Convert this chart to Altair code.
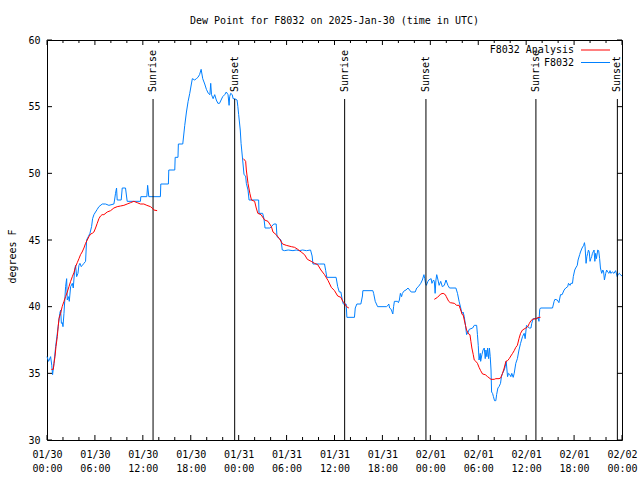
import altair as alt
import pandas as pd

# ---------------- data (hours since 2025-01-30 00:00 UTC, deg F) ----------------
obs_hours = [
    0.0, 0.2, 0.45, 0.6, 0.7, 0.875, 1.08, 1.29, 1.5, 1.6, 1.71, 1.8, 1.92, 2.0, 2.125, 2.33, 2.46, 2.54,
    2.7, 2.79, 2.96, 3.17, 3.29, 3.46, 3.58, 3.71, 3.875, 4.0, 4.125, 4.29, 4.42, 4.625, 4.83, 4.96, 5.17,
    5.375, 5.58, 5.71, 5.875, 6.08, 6.29, 6.5, 6.92, 7.33, 7.75, 8.375, 8.46, 8.58, 8.71, 8.79, 9.29, 9.42,
    9.83, 10.04, 11.7, 11.75, 12.5, 12.6, 12.75, 14.2, 14.25, 15.2, 15.25, 16.0, 16.05, 16.4, 16.45, 17.0,
    17.25, 17.46, 17.67, 17.875, 18.08, 18.2, 18.5, 18.7, 18.9, 19.1, 19.3, 19.5, 19.75, 19.96, 20.2, 20.4,
    20.5, 20.6, 20.8, 21.0, 21.2, 21.4, 21.6, 21.8, 22.0, 22.25, 22.45, 22.67, 22.8, 22.875, 23.0, 23.2,
    23.3, 23.5, 23.8, 23.9, 24.0, 24.2, 24.3, 24.5, 24.67, 24.875, 24.96, 25.17, 25.3, 26.5, 26.55, 27.0,
    27.17, 27.3, 27.9, 28.1, 28.4, 28.7, 28.8, 29.1, 29.3, 29.46, 29.75, 30.2, 30.8, 31.2, 31.6, 32.0, 32.5,
    33.0, 33.2, 33.3, 34.1, 34.75, 34.9, 35.04, 36.2, 36.4, 36.6, 36.8, 36.96, 37.1, 37.46, 37.55, 38.5,
    38.6, 38.8, 39.3, 39.5, 39.55, 40.8, 40.9, 41.1, 41.4, 42.5, 42.7, 42.8, 42.9, 43.1, 43.3, 43.4, 43.5,
    43.9, 44.0, 44.125, 44.25, 44.4, 44.5, 44.75, 44.96, 45.2, 45.4, 45.6, 46.1, 46.3, 46.5, 46.8, 47.0,
    47.2, 47.3, 47.4, 47.5, 47.7, 47.8, 48.1, 48.2, 48.4, 48.5, 48.6, 48.7, 48.8, 48.96, 49.1, 49.3, 49.5,
    49.75, 49.96, 50.2, 50.4, 51.2, 51.4, 51.6, 51.75, 51.96, 52.1, 52.25, 52.4, 52.54, 52.67, 52.875, 53.3,
    53.5, 53.8, 53.9, 54.0, 54.1, 54.25, 54.3, 54.46, 54.6, 54.75, 54.875, 54.96, 55.08, 55.17, 55.3, 55.4,
    55.5, 55.6, 55.67, 55.79, 55.9, 56.04, 56.2, 56.3, 56.46, 56.6, 56.79, 56.9, 57.04, 57.25, 57.375, 57.5,
    57.67, 57.79, 57.96, 58.08, 58.2, 58.375, 58.5, 58.7, 58.9, 59.1, 59.3, 59.54, 59.75, 59.875, 60.04,
    60.2, 60.4, 60.6, 60.7, 60.875, 61.4, 61.5, 61.6, 61.7, 61.8, 63.3, 63.5, 63.6, 63.9, 64.1, 64.3, 64.5,
    64.75, 64.96, 65.2, 65.3, 65.5, 65.6, 65.8, 65.9, 66.08, 66.2, 66.4, 66.5, 66.7, 66.8, 67.0, 67.2, 67.3,
    67.375, 67.5, 67.6, 67.7, 67.8, 67.9, 68.0, 68.1, 68.2, 68.3, 68.5, 68.6, 68.7, 68.8, 68.96, 69.08,
    69.2, 69.3, 69.46, 69.6, 69.7, 69.8, 69.96, 70.08, 70.2, 70.375, 70.5, 70.6, 70.79, 71.0, 71.2, 71.4,
    71.5, 71.67, 71.8, 72.0,
]
obs_dewpt = [
    36.25, 35.9, 36.25, 35.6, 34.9, 35.75, 37.0, 38.0, 39.0, 39.5, 39.75, 38.75, 38.8, 38.5, 39.5, 41.5, 42.1, 40.5,
    40.75, 40.4, 41.5, 41.75, 41.4, 42.75, 43.1, 42.25, 42.5, 43.1, 43.25, 43.0, 43.1, 43.25, 43.4, 45.0, 45.25,
    45.5, 46.0, 46.6, 46.9, 47.1, 47.3, 47.5, 47.7, 47.7, 47.6, 47.7, 48.0, 48.5, 48.9, 48.0, 48.0, 48.9,
    48.9, 47.9, 47.9, 48.25, 48.25, 49.1, 48.25, 48.25, 49.2, 49.2, 50.25, 50.25, 51.2, 51.2, 52.2, 52.2,
    53.6, 54.6, 55.4, 56.0, 56.7, 57.1, 57.0, 57.1, 57.2, 57.4, 57.8, 57.1, 56.7, 56.3, 56.0, 55.9,
    56.75, 55.9, 55.6, 55.9, 55.5, 55.25, 55.25, 55.5, 55.75, 55.9, 56.1, 55.9, 55.1, 55.75, 56.0, 55.9,
    55.6, 55.6, 55.5, 55.0, 54.4, 53.25, 52.25, 51.0, 49.9, 49.8, 49.25, 48.75, 48.0, 48.0, 47.0, 47.0,
    46.6, 45.9, 45.9, 46.0, 46.2, 46.2, 45.25, 45.1, 45.0, 44.25, 44.2, 44.25, 44.2, 44.25, 44.2, 44.25, 44.2,
    44.25, 43.8, 43.2, 43.2, 43.2, 42.7, 42.2, 42.2, 41.5, 41.1, 41.1, 40.55, 40.2, 40.2, 39.2, 39.2,
    39.9, 40.2, 40.2, 40.8, 41.2, 41.2, 41.0, 40.4, 40.0, 40.0, 40.1, 40.2, 39.9, 39.8, 39.45, 40.0, 40.4,
    40.4, 40.3, 40.5, 41.0, 40.75, 41.0, 41.2, 41.25, 41.4, 41.25, 41.1, 41.1, 41.4, 41.5, 41.75, 42.0,
    42.4, 42.1, 41.75, 41.6, 41.9, 42.0, 42.1, 41.75, 42.0, 41.9, 41.0, 42.0, 42.4, 42.0, 41.6, 41.9, 41.5,
    41.6, 42.0, 41.6, 41.4, 41.4, 41.0, 40.4, 40.05, 39.5, 39.6, 39.25, 38.6, 37.9, 38.0, 38.3, 38.4,
    38.6, 38.6, 37.9, 37.1, 36.0, 36.5, 35.9, 36.4, 36.75, 36.9, 36.1, 36.75, 36.25, 36.9, 36.1, 36.9,
    36.25, 35.25, 33.6, 33.5, 33.25, 32.95, 32.95, 33.4, 33.9, 34.0, 34.25, 34.75, 35.0, 35.25, 35.5, 35.9,
    34.75, 35.0, 34.9, 34.75, 35.0, 34.7, 35.0, 35.75, 36.1, 36.75, 37.25, 37.75, 38.0, 37.6, 38.6,
    38.5, 38.4, 38.4, 38.75, 39.1, 39.1, 39.2, 38.9, 39.8, 39.9, 39.9, 40.4, 40.55, 40.5, 40.3, 40.9, 40.9,
    41.25, 41.4, 41.5, 41.75, 41.6, 41.75, 41.75, 42.25, 42.75, 42.9, 43.1, 43.5, 43.9, 44.1, 44.4, 44.6, 44.8,
    44.5, 43.25, 43.75, 44.0, 44.25, 44.1, 43.4, 43.6, 43.75, 44.0, 44.25, 43.4, 44.0, 43.6, 44.25, 44.2,
    43.6, 42.9, 42.5, 42.75, 42.6, 42.0, 42.5, 42.75, 42.6, 42.5, 42.7, 42.5, 42.6, 42.5, 42.7, 42.25,
    42.4, 42.5, 42.4, 42.3,
]

ana1_hours = [0.54, 0.79, 0.875, 1.0, 1.125, 1.29, 1.4, 1.5, 1.7, 1.9, 2.125, 2.33, 2.54, 2.75, 2.96, 3.17,
              3.375, 3.58, 3.79, 4.0, 4.2, 4.4, 4.625, 4.83, 5.04, 5.25, 5.46, 5.67, 5.875, 6.08, 6.29, 6.5,
              6.7, 6.9, 7.125, 7.54, 7.96, 8.375, 8.79, 9.2, 9.625, 10.04, 10.46, 10.875, 11.3, 11.7, 12.125,
              12.5, 12.96, 13.17, 13.375, 13.79]
ana1_dewpt = [35.3, 35.3, 35.75, 36.25, 37.0, 37.75, 38.5, 39.1, 39.5, 40.0, 40.4, 40.75, 41.1, 41.5, 41.9, 42.25,
              42.55, 43.0, 43.3, 43.6, 43.9, 44.1, 44.4, 44.75, 45.0, 45.25, 45.45, 45.5, 45.6, 45.9, 46.25, 46.6,
              46.8, 46.9, 46.9, 47.1, 47.2, 47.4, 47.5, 47.55, 47.6, 47.7, 47.8, 47.9, 47.8, 47.7, 47.7,
              47.6, 47.5, 47.4, 47.25, 47.2]
ana2_hours = [24.6, 24.875, 24.96, 25.17, 25.4, 25.6, 26.0, 26.2, 26.4, 26.8, 27.25, 27.67, 28.1, 28.3, 28.7,
              29.1, 29.5, 29.96, 30.6, 31.0, 31.4, 31.83, 32.25, 32.6, 33.08, 33.5, 33.9, 34.3, 34.75, 35.2,
              35.6, 36.0, 36.4, 36.8, 37.04, 37.25, 37.5, 37.8]
ana2_dewpt = [51.1, 50.9, 50.25, 49.25, 48.5, 48.0, 47.9, 47.4, 47.0, 46.9, 46.5, 46.4, 46.0, 45.6, 45.4,
              45.1, 44.7, 44.6, 44.5, 44.45, 44.3, 44.1, 43.9, 43.55, 43.4, 43.25, 43.15, 42.75, 42.4, 41.95,
              41.45, 41.2, 40.8, 40.7, 40.4, 40.25, 40.0, 39.9]
ana3_hours = [48.5, 48.9, 49.3, 49.6, 49.875, 50.0, 50.3, 50.5, 51.0, 51.3, 51.6, 51.8, 52.0, 52.1, 52.4, 52.54,
              52.79, 52.96, 53.08, 53.2, 53.375, 53.5, 53.7, 53.9, 54.1, 54.3, 54.54, 54.875, 55.17, 55.6, 56.0,
              56.2, 56.6, 56.8, 57.04, 57.25, 57.46, 57.67, 57.875, 58.08, 58.3, 58.5, 58.7, 58.9, 59.1, 59.3,
              59.54, 59.96, 60.2, 60.4, 60.6, 60.8, 61.2, 61.6, 61.8]
ana3_dewpt = [40.55, 40.7, 40.95, 41.0, 40.9, 40.75, 40.4, 40.3, 40.25, 40.1, 40.1, 39.75, 39.4, 39.4, 38.6, 38.25,
              37.95, 37.9, 37.4, 36.9, 36.4, 36.0, 35.9, 35.75, 35.45, 35.2, 34.95, 34.9, 34.75, 34.55, 34.55,
              34.6, 34.6, 34.65, 35.0, 35.4, 35.9, 35.95, 36.1, 36.3, 36.5, 36.7, 36.95, 37.1, 37.6, 38.0,
              38.25, 38.4, 38.5, 38.75, 38.95, 39.05, 39.1, 39.2, 39.2]

sun_hours = [13.28, 23.5, 37.27, 47.45, 61.22, 71.42]
sun_labels = ["Sunrise", "Sunset", "Sunrise", "Sunset", "Sunrise", "Sunset"]

day_labels = ["01/30", "01/31", "02/01", "02/02"]
x_major = list(range(0, 73, 6))
x_minor = [h for h in range(0, 73, 2) if h % 6]
y_ticks = list(range(30, 61, 5))

series_names = ["F8032 Analysis", "F8032"]
series_colors = ["#ff0000", "#0080ff"]

# ---------------- chart ----------------
FONT = "DejaVu Sans Mono"
W, H = 575, 400

obs_df = pd.DataFrame({"hour": obs_hours, "dewpt": obs_dewpt})
ana_df = pd.concat([
    pd.DataFrame({"hour": ana1_hours, "dewpt": ana1_dewpt, "seg": 1}),
    pd.DataFrame({"hour": ana2_hours, "dewpt": ana2_dewpt, "seg": 2}),
    pd.DataFrame({"hour": ana3_hours, "dewpt": ana3_dewpt, "seg": 3}),
])
sun_df = pd.DataFrame({"hour": sun_hours, "label": sun_labels})

x_scale = alt.Scale(domain=[0, 72], nice=False, zero=False)
y_scale = alt.Scale(domain=[30, 60], nice=False, zero=False)

label_expr = ("[" + str(day_labels).replace('"', "'") + "[floor(datum.value/24)], "
              "(datum.value % 24 < 10 ? '0' : '') + (datum.value % 24) + ':00']")

x_axis = alt.Axis(values=x_major, labelExpr=label_expr, ticks=False, tickSize=0, domain=False,
                  grid=False, title=None, labelFont=FONT, labelFontSize=10, labelColor="black",
                  labelPadding=9, labelLineHeight=14, labelBaseline="top", labelFlush=False,
                  labelOverlap=False, labelBound=False)
y_axis = alt.Axis(values=y_ticks, ticks=False, tickSize=0, domain=False, grid=False,
                  title="degrees F", titleFont=FONT, titleFontSize=10, titleFontWeight="normal",
                  titleColor="black", titleAngle=270, titleX=-35, titleY=H / 2 + 16, titleAlign="center",
                  titleBaseline="middle", labelFont=FONT, labelFontSize=10, labelColor="black",
                  labelPadding=7, labelFlush=False, labelOverlap=False)


def X():
    return alt.X("hour:Q", scale=x_scale, axis=x_axis)


def Y():
    return alt.Y("dewpt:Q", scale=y_scale, axis=y_axis)


obs = alt.Chart(obs_df).mark_line(color=series_colors[1], strokeWidth=1).encode(x=X(), y=Y())
ana = alt.Chart(ana_df).mark_line(color=series_colors[0], strokeWidth=1).encode(
    x=X(), y=Y(), detail="seg:N")

sun_rules = alt.Chart(sun_df).mark_rule(color="black", strokeWidth=1).encode(
    x=X(), y=alt.value(59), y2=alt.value(H))
sun_text = alt.Chart(sun_df).mark_text(angle=270, align="left", baseline="middle", font=FONT,
                                       fontSize=10, color="black").encode(
    x=X(), y=alt.value(52), text="label:N")

# inward ticks (gnuplot style), on all four sides
xmaj_df = pd.DataFrame({"hour": x_major})
xmin_df = pd.DataFrame({"hour": x_minor})
ytk_df = pd.DataFrame({"dewpt": y_ticks})
tick_layers = [
    alt.Chart(xmaj_df).mark_rule(color="black").encode(x=X(), y=alt.value(H), y2=alt.value(H - 5)),
    alt.Chart(xmaj_df).mark_rule(color="black").encode(x=X(), y=alt.value(0), y2=alt.value(5)),
    alt.Chart(xmin_df).mark_rule(color="black").encode(x=X(), y=alt.value(H), y2=alt.value(H - 3)),
    alt.Chart(xmin_df).mark_rule(color="black").encode(x=X(), y=alt.value(0), y2=alt.value(3)),
    alt.Chart(ytk_df).mark_rule(color="black").encode(y=Y(), x=alt.value(0), x2=alt.value(5)),
    alt.Chart(ytk_df).mark_rule(color="black").encode(y=Y(), x=alt.value(W), x2=alt.value(W - 5)),
]

# legend (top right, labels left of the line samples)
legend_layers = []
for i, (name, col) in enumerate(zip(series_names, series_colors)):
    ldf = pd.DataFrame({"name": [name]})
    yy = 10 + 12.5 * i
    legend_layers.append(alt.Chart(ldf).mark_text(align="right", baseline="middle", font=FONT,
                                                  fontSize=10, color="black").encode(
        x=alt.value(527), y=alt.value(yy), text="name:N"))
    legend_layers.append(alt.Chart(ldf).mark_rule(color=col, strokeWidth=1).encode(
        x=alt.value(534), x2=alt.value(563), y=alt.value(yy)))

chart = alt.layer(obs, *tick_layers, sun_rules, sun_text, ana, *legend_layers).properties(
    width=W, height=H,
    padding={"left": 47, "top": 40, "right": 18, "bottom": 40},
    autosize=alt.AutoSizeParams(type="none"),
    background="white",
    title=alt.Title("Dew Point for F8032 on 2025-Jan-30 (time in UTC)", font=FONT, fontSize=10,
                    fontWeight="normal", color="black", anchor="middle", baseline="bottom",
                    offset=14, dy=15),
).configure_view(stroke="black", strokeWidth=1)

chart.save("out.html", embed_options={"renderer": "svg", "actions": False})
